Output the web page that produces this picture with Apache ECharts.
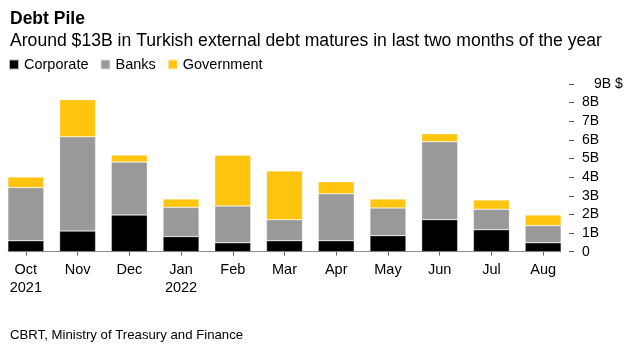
<!DOCTYPE html>
<html><head><meta charset="utf-8">
<script src="https://cdn.jsdelivr.net/npm/echarts@6/dist/echarts.min.js"></script>
<style>html,body{margin:0;padding:0;background:#fff}#c{width:630px;height:346px}</style>
</head><body><div id="c"></div>
<script>
var categories = ['Oct\n2021','Nov','Dec','Jan\n2022','Feb','Mar','Apr','May','Jun','Jul','Aug'];
var corporate = [0.59,1.11,1.97,0.81,0.48,0.59,0.59,0.86,1.72,1.18,0.48];
var banks = [2.85,5.06,2.84,1.57,1.97,1.13,2.52,1.49,4.18,1.10,0.92];
var government = [0.57,1.99,0.38,0.45,2.72,2.61,0.65,0.48,0.43,0.50,0.57];
var yTicks = [0,1,2,3,4,5,6,7,8,9];
var baseLine = [[-0.35,0],[10.35,0]];

var FONT = 'Liberation Sans, Arial, sans-serif';
var chart = echarts.init(document.getElementById('c'));
function bar(name, data, color){
  return {name:name,type:'bar',stack:'t',data:data,barWidth:36,
    itemStyle:{color:color,borderColor:'rgba(255,255,255,0.7)',borderWidth:0.5},
    emphasis:{disabled:true}};
}
chart.setOption({
  animation:false,
  textStyle:{fontFamily:FONT},
  title:[
    {text:'Debt Pile',left:5,top:5,textStyle:{fontFamily:FONT,fontSize:17.5,fontWeight:'bold',color:'#000'}},
    {text:'Around $13B in Turkish external debt matures in last two months of the year',left:5,top:27,textStyle:{fontFamily:FONT,fontSize:17.6,fontWeight:'normal',color:'#000'}},
    {text:'CBRT, Ministry of Treasury and Finance',left:5,top:324,textStyle:{fontFamily:FONT,fontSize:13.2,fontWeight:'normal',color:'#000'}}
  ],
  legend:{left:3,top:52,icon:'rect',itemWidth:10,itemHeight:10,itemGap:11,
    textStyle:{fontFamily:FONT,fontSize:14.5,color:'#000'},
    data:['Corporate','Banks','Government']},
  grid:{left:-2,right:61,top:84,bottom:94.3,containLabel:false},
  xAxis:[{type:'category',data:categories,
    axisLine:{show:false},
    axisTick:{show:true,alignWithLabel:true,length:4,lineStyle:{color:'#666'}},
    axisLabel:{fontFamily:FONT,fontSize:14.5,color:'#000',lineHeight:18,margin:9}},
    {type:'value',min:-0.5,max:10.5,show:false,gridIndex:0}],
  yAxis:{type:'value',position:'right',min:0,max:9,interval:1,
    axisLine:{show:false,onZero:false},splitLine:{show:false},
    axisTick:{show:true,length:5,lineStyle:{color:'#555'}},
    axisLabel:{fontFamily:FONT,fontSize:14,color:'#000',margin:13,
      formatter:function(v){ if(v===0) return '0'; if(v===9) return '{t|'+v+'B $}'; return v+'B'; },
      rich:{t:{fontFamily:FONT,fontSize:14,color:'#000',padding:[0,0,0,12]}}}},
  series:[
    bar('Corporate',corporate,'#000000'),
    bar('Banks',banks,'#999999'),
    bar('Government',government,'#FFC40D'),
    {type:'line',xAxisIndex:1,data:baseLine,symbol:'none',silent:true,
      lineStyle:{color:'#777',width:1},z:5}
  ]
});
</script></body></html>
